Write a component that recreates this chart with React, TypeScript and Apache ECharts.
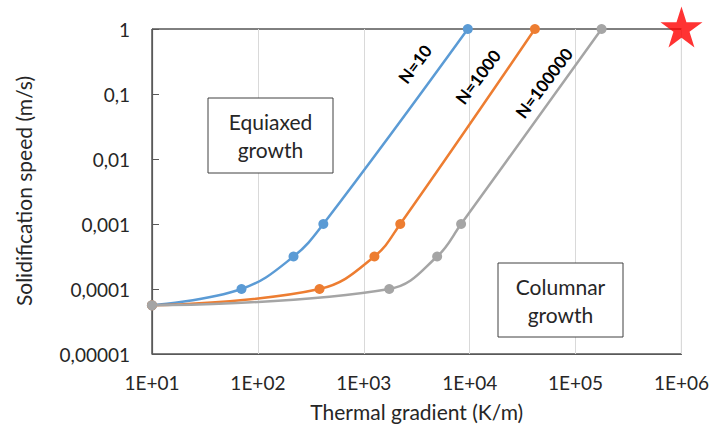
import React, { useEffect, useRef } from "react";
import * as echarts from "echarts";

const startPoint: [number, number] = [10, 5.6e-5];
const seriesNames = ["N=10", "N=1000", "N=100000"];
const n10: [number, number][] = [startPoint, [70, 1e-4], [217, 3.16e-4], [415, 1e-3], [9600, 1]];
const n1000: [number, number][] = [startPoint, [382, 1e-4], [1260, 3.16e-4], [2210, 1e-3], [41300, 1]];
const n100000: [number, number][] = [startPoint, [1740, 1e-4], [4930, 3.16e-4], [8300, 1e-3], [176000, 1]];
const starPoint: [number, number][] = [[1e6, 1]];
const colors = ["#5B9BD5", "#ED7D31", "#A5A5A5"];

const FONT = "Lato, 'Open Sans', sans-serif";
const STAR = "path://M50 0 L61.23 34.55 L97.55 34.55 L68.16 55.9 L79.39 90.45 L50 69.1 L20.61 90.45 L31.84 55.9 L2.45 34.55 L38.77 34.55 Z";

const xLabel = (v: number) => {
  const e = Math.round(Math.log10(v));
  return "1E+" + String(e).padStart(2, "0");
};
const yLabel = (v: number) => {
  const e = Math.round(Math.log10(v));
  if (e >= 0) return "1";
  return "0," + "0".repeat(-e - 1) + "1";
};

export default function App() {
  const ref = useRef<HTMLDivElement>(null);
  useEffect(() => {
    if (!ref.current) return;
    const chart = echarts.init(ref.current, null, { renderer: "svg" });
    const data = [n10, n1000, n100000];
    const rot = (53 * Math.PI) / 180;
    chart.setOption({
      animation: false,
      backgroundColor: "#fff",
      textStyle: { fontFamily: FONT },
      grid: { left: 152, right: 29, top: 29, bottom: 79, show: true, borderColor: "#000", borderWidth: 1 },
      xAxis: {
        type: "log",
        logBase: 10,
        min: 10,
        max: 1e6,
        name: "Thermal gradient (K/m)",
        nameLocation: "middle",
        nameGap: 47,
        nameTextStyle: { fontSize: 21, color: "#262626", fontFamily: FONT },
        axisLine: { show: true, lineStyle: { color: "#595959", width: 1.2 } },
        axisTick: { show: false },
        minorTick: { show: false },
        splitLine: { show: true, lineStyle: { color: "#D9D9D9", width: 1 } },
        axisLabel: { formatter: xLabel, fontSize: 19, color: "#262626", margin: 19, fontFamily: FONT },
      },
      yAxis: {
        type: "log",
        logBase: 10,
        min: 1e-5,
        max: 1,
        axisLine: { show: true, lineStyle: { color: "#595959", width: 1.2 } },
        axisTick: { show: true, inside: true, length: 7, lineStyle: { color: "#595959" } },
        splitLine: { show: false },
        axisLabel: { formatter: yLabel, fontSize: 19, color: "#262626", margin: 22, fontFamily: FONT },
      },
      series: [
        ...data.map((d, i) => ({
          name: seriesNames[i],
          type: "line",
          data: d,
          smooth: 0.4,
          clip: false,
          symbol: "circle",
          symbolSize: 10,
          showSymbol: true,
          itemStyle: { color: colors[i] },
          lineStyle: { color: colors[i], width: 2.5 },
          z: 3 + i,
        })),
        {
          type: "scatter",
          data: starPoint,
          symbol: STAR,
          symbolSize: [42, 41],
          symbolOffset: [0, -2],
          clip: false,
          itemStyle: { color: "#FF0000" },
          z: 10,
        },
      ],
      graphic: [
        { type: "text", x: 23, y: 191, rotation: Math.PI / 2, z: 20, style: { text: "Solidification speed (m/s)", font: `21px ${FONT}`, fill: "#262626", align: "center", verticalAlign: "middle" } },
        { type: "text", x: 415, y: 64, rotation: rot, z: 20, style: { text: "N=10", font: `bold 17px ${FONT}`, fill: "#000", align: "center", verticalAlign: "middle" } },
        { type: "text", x: 478, y: 77, rotation: rot, z: 20, style: { text: "N=1000", font: `bold 17px ${FONT}`, fill: "#000", align: "center", verticalAlign: "middle" } },
        { type: "text", x: 544, y: 83, rotation: rot, z: 20, style: { text: "N=100000", font: `bold 17px ${FONT}`, fill: "#000", align: "center", verticalAlign: "middle" } },
        { type: "rect", shape: { x: 208, y: 98, width: 125, height: 75 }, z: 20, style: { fill: "#fff", stroke: "#404040", lineWidth: 1 } },
        { type: "text", x: 270.5, y: 135.5, z: 21, style: { text: "Equiaxed\ngrowth", font: `21px ${FONT}`, lineHeight: 28, fill: "#262626", align: "center", verticalAlign: "middle" } },
        { type: "rect", shape: { x: 498, y: 263, width: 125, height: 74 }, z: 20, style: { fill: "#fff", stroke: "#404040", lineWidth: 1 } },
        { type: "text", x: 560.5, y: 300, z: 21, style: { text: "Columnar\ngrowth", font: `21px ${FONT}`, lineHeight: 28, fill: "#262626", align: "center", verticalAlign: "middle" } },
      ],
    });
    return () => chart.dispose();
  }, []);
  return <div ref={ref} style={{ position: "fixed", left: 0, top: 0, width: 712, height: 433, background: "#fff" }} />;
}
